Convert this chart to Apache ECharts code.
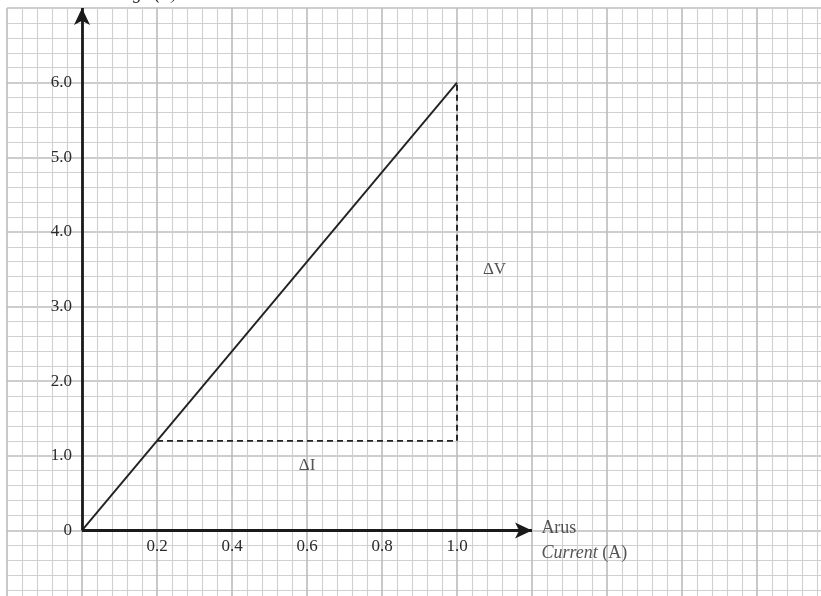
<!DOCTYPE html>
<html>
<head>
<meta charset="utf-8">
<script src="https://cdn.jsdelivr.net/npm/echarts@6/dist/echarts.min.js"></script>
<style>html,body{margin:0;padding:0;background:#fff;}#c{width:821px;height:596px;}</style>
</head>
<body>
<div id="c"></div>
<script>
// ---- data ----
var xTickLabels = [0.2, 0.4, 0.6, 0.8, 1.0];
var yTickLabels = [0, 1, 2, 3, 4, 5, 6];
var graphLine = [[0, 0], [1.0, 6.0]];
var slopeGuide = [[0.2, 1.2], [1.0, 1.2], [1.0, 6.0]];
var xAxisArrow = [[0, 0], [1.2, 0]];
var yAxisArrow = [[0, 0], [0, 7.0]];
var deltaI = [0.6, 0.87];
var deltaV = [1.10, 3.5];
var xNamePos = [1.225, -0.14];

var FONT = '"Liberation Serif", "DejaVu Serif", serif';
var chart = echarts.init(document.getElementById('c'), null, {renderer: 'canvas'});

function inList(v, list) {
  for (var i = 0; i < list.length; i++) if (Math.abs(list[i] - v) < 1e-6) return true;
  return false;
}

var option = {
  backgroundColor: '#fff',
  animation: false,
  grid: {left: 7, top: 8, width: 825, height: 597, containLabel: false, outerBoundsMode: 'none'},
  xAxis: {
    type: 'value', min: -0.2, max: 2.0, interval: 0.2, offset: -75,
    axisLine: {show: false, onZero: false},
    axisTick: {show: false},
    minorTick: {show: false, splitNumber: 5},
    splitLine: {show: true, lineStyle: {color: '#bcbcbc', width: 1.6}},
    minorSplitLine: {show: true, lineStyle: {color: '#d0d0d0', width: 1.1}},
    axisLabel: {
      margin: 8, color: '#2a2a2a', fontFamily: FONT, fontSize: 17,
      formatter: function (v) { return inList(v, xTickLabels) ? v.toFixed(1) : ''; }
    }
  },
  yAxis: {
    type: 'value', min: -1, max: 7, interval: 1, offset: -74,
    axisLine: {show: false, onZero: false},
    axisTick: {show: false},
    minorTick: {show: false, splitNumber: 5},
    splitLine: {show: true, lineStyle: {color: '#bcbcbc', width: 1.6}},
    minorSplitLine: {show: true, lineStyle: {color: '#d0d0d0', width: 1.1}},
    axisLabel: {
      margin: 9, color: '#2a2a2a', fontFamily: FONT, fontSize: 17,
      formatter: function (v) {
        if (!inList(v, yTickLabels)) return '';
        return v === 0 ? '0' : v.toFixed(1);
      }
    }
  },
  graphic: [{
    type: 'text', left: 96, top: -15, silent: true,
    style: {text: 'Voltage (V)', font: 'italic 18px ' + FONT, fill: '#2a2a2a'}
  }],
  series: [
    {
      type: 'line', data: [], silent: true,
      markLine: {
        silent: true, symbol: ['none', 'arrow'], symbolSize: [12, 17],
        label: {show: false},
        lineStyle: {color: '#1a1a1a', width: 2.8, type: 'solid'},
        data: [
          [{coord: xAxisArrow[0]}, {coord: xAxisArrow[1]}],
          [{coord: yAxisArrow[0]}, {coord: yAxisArrow[1]}]
        ]
      }
    },
    {
      type: 'line', data: graphLine, symbol: 'none', silent: true,
      lineStyle: {color: '#222', width: 1.9}
    },
    {
      type: 'line', data: slopeGuide, symbol: 'none', silent: true,
      lineStyle: {color: '#222', width: 1.9, type: [6, 4]}
    },
    {
      type: 'scatter', symbolSize: 0, silent: true,
      data: [
        {value: deltaI, label: {formatter: '\u0394I', align: 'center', fontSize: 17}},
        {value: deltaV, label: {formatter: '\u0394V', align: 'center', fontSize: 17}},
        {value: xNamePos, label: {formatter: 'Arus\n{i|Current} (A)', align: 'left', lineHeight: 25}}
      ],
      label: {
        show: true, position: 'inside', color: '#2a2a2a', fontFamily: FONT, fontSize: 18,
        rich: {i: {fontStyle: 'italic', fontFamily: FONT, fontSize: 18, color: '#2a2a2a'}}
      }
    }
  ]
};
chart.setOption(option);
</script>
</body>
</html>
